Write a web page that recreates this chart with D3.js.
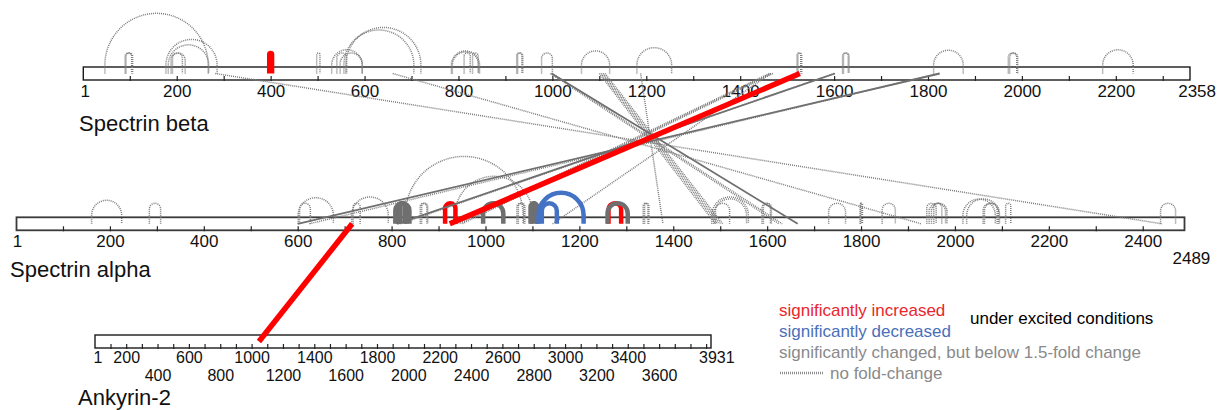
<!DOCTYPE html>
<html>
<head>
<meta charset="utf-8">
<script src="https://cdn.jsdelivr.net/npm/d3@7"></script>
<style>
  body { margin: 0; background: #fff; }
  svg { display: block; font-family: Arial, "Liberation Sans", sans-serif; }
</style>
</head>
<body>
<svg id="chart" width="1217" height="410"></svg>
<script>
// ---- proteins ----
const proteinNames = ["Spectrin beta", "Spectrin alpha", "Ankyrin-2"];
const proteinLengths = [2358, 2489, 3931];

// ---- tick labels ----
const betaTickLabels = [200, 400, 600, 800, 1000, 1200, 1400, 1600, 1800, 2000, 2200];
const alphaTickLabels = [200, 400, 600, 800, 1000, 1200, 1400, 1600, 1800, 2000, 2200, 2400];
const ankyrinTickRow1 = [200, 600, 1000, 1400, 1800, 2200, 2600, 3000, 3400];
const ankyrinTickRow2 = [400, 800, 1200, 1600, 2000, 2400, 2800, 3200, 3600];

// ---- crosslinks: [residue A, residue B, category] ----
// categories: up = significantly increased, down = significantly decreased,
// changed = significant but below 1.5-fold, none = no fold-change
const betaLinks = [
  [47, 267, "none"], [90, 104, "none"], [92, 106, "none"],
  [177, 286, "none"], [182, 268, "none"], [188, 218, "none"], [191, 212, "none"],
  [498, 505, "none"], [530, 595, "none"], [541, 562, "none"], [548, 595, "none"],
  [556, 705, "none"], [560, 720, "none"],
  [785, 845, "none"], [787, 843, "none"], [812, 825, "none"], [830, 842, "none"],
  [924, 935, "none"], [926, 937, "none"], [977, 1000, "none"],
  [1062, 1122, "none"], [1180, 1254, "none"],
  [1521, 1529, "none"], [1523, 1531, "none"], [1618, 1630, "none"], [1620, 1632, "none"],
  [1812, 1875, "none"], [1971, 1989, "none"], [1974, 1991, "none"], [2172, 2237, "none"],
  [397, 403, "up"]
];

const alphaLinks = [
  [161, 225, "none"], [284, 308, "none"], [601, 676, "none"], [604, 627, "none"],
  [715, 793, "none"], [718, 733, "none"], [829, 1080, "none"], [935, 1101, "none"],
  [861, 875, "none"], [864, 877, "none"], [1067, 1082, "none"], [1070, 1084, "none"],
  [1336, 1346, "none"], [1339, 1348, "none"],
  [1482, 1560, "none"], [1486, 1556, "none"], [1490, 1520, "none"],
  [1589, 1607, "none"], [1592, 1609, "none"], [1731, 1767, "none"],
  [1798, 1802, "none"], [1799, 1803, "none"], [1845, 1873, "none"],
  [1940, 1960, "none"], [1945, 1980, "none"], [1950, 1983, "none"], [1955, 1972, "none"],
  [2017, 2086, "none"], [2025, 2095, "none"], [2060, 2090, "none"], [2063, 2093, "none"],
  [2108, 2119, "none"], [2438, 2470, "none"],
  [808, 838, "changed"], [813, 832, "changed"], [818, 828, "changed"],
  [914, 936, "up"],
  [995, 1038, "changed"],
  [1096, 1110, "changed"], [1099, 1107, "changed"],
  [1113, 1209, "down"], [1120, 1152, "down"],
  [1262, 1289, "up"], [1260, 1303, "changed"]
];

// [beta residue, alpha residue, category]
const betaAlphaLinks = [
  [282, 2441, "none"], [660, 1928, "none"],
  [996, 1625, "none"], [1000, 1632, "none"],
  [1100, 1490, "none"], [1104, 1495, "none"], [1108, 1500, "none"], [1112, 1505, "none"],
  [1188, 1378, "none"], [1465, 1143, "none"],
  [1462, 938, "none"], [1466, 944, "none"], [1470, 950, "none"],
  [1823, 625, "none"], [1600, 818, "none"],
  [998, 1665, "changed"], [1602, 812, "changed"], [1825, 600, "changed"],
  [1527, 924, "up"]
];

// [alpha residue, ankyrin residue, category]
const alphaAnkyrinLinks = [
  [716, 1047, "up"]
];

// ---- drawing ----
const svg = d3.select("#chart");
const BAR_H = 13;

const bars = [
  { x0: 83.3, x1: 1190, top: 67 },
  { x0: 16.5, x1: 1184.5, top: 217.3 },
  { x0: 95, x1: 711, top: 335 }
];
const scales = bars.map((b, i) =>
  d3.scaleLinear().domain([1, proteinLengths[i]]).range([b.x0, b.x1]));

const colour = { up: "#ff0000", down: "#4472c4", changed: "#6f6f6f", none: "#7c7c7c" };

// protein bars
const gBars = svg.append("g");
bars.forEach((b, i) => {
  gBars.append("rect")
    .attr("x", b.x0).attr("y", b.top)
    .attr("width", b.x1 - b.x0).attr("height", BAR_H)
    .attr("fill", "#fff")
    .attr("stroke", i === 1 ? "#3a3a3a" : "#1a1a1a")
    .attr("stroke-width", i === 1 ? 1.8 : 1.4);
});

// axes: minor tick every 100 residues, labels on the listed values
function drawAxis(i, labels, padding, size) {
  const s = scales[i];
  const b = bars[i];
  const labelSet = new Set(labels);
  const axis = d3.axisBottom(s)
    .tickValues(d3.range(100, proteinLengths[i], 100))
    .tickSizeInner(-4).tickSizeOuter(0)
    .tickPadding(padding)
    .tickFormat(d => labelSet.has(d) ? String(d) : "");
  const g = svg.append("g")
    .attr("transform", `translate(0,${b.top + BAR_H})`)
    .call(axis);
  g.select(".domain").remove();
  g.selectAll(".tick line").attr("stroke", "#222").attr("stroke-width", 1.2)
    .attr("y2", -4).attr("y1", 1);
  g.selectAll(".tick text").attr("fill", "#111").attr("font-size", size)
    .attr("font-family", "Arial, 'Liberation Sans', sans-serif");
  return g;
}

drawAxis(0, betaTickLabels, 5, 17);
drawAxis(1, alphaTickLabels, 5, 17);
const ankAxis = drawAxis(2, ankyrinTickRow1.concat(ankyrinTickRow2), 4, 16);
const row2 = new Set(ankyrinTickRow2);
ankAxis.selectAll(".tick text").filter(d => row2.has(d)).attr("y", 22);

// end labels
function endLabel(text, x, y, anchor, size) {
  svg.append("text").attr("x", x).attr("y", y).attr("text-anchor", anchor)
    .attr("font-size", size).attr("fill", "#111").text(text);
}
endLabel("1", scales[0](1) + 2, 97, "middle", 17);
endLabel(String(proteinLengths[0]), 1216, 97, "end", 17);
endLabel("1", scales[1](1) + 1, 247, "middle", 17);
endLabel(String(proteinLengths[1]), scales[1](proteinLengths[1]) - 12, 263.5, "start", 17);
endLabel("1", scales[2](1) + 3, 363, "middle", 16);
endLabel(String(proteinLengths[2]), scales[2](proteinLengths[2]) - 12, 363, "start", 16);

// protein names
const nameY = [131, 277, 405];
const nameX = [79, 10, 78];
proteinNames.forEach((n, i) => {
  svg.append("text").attr("x", nameX[i]).attr("y", nameY[i])
    .attr("font-size", 22).attr("fill", "#111").text(n);
});

// intra-protein links as arches above the bar
function arcPath(i, a, b) {
  const s = scales[i], top = bars[i].top;
  const x1 = s(Math.min(a, b)), x2 = s(Math.max(a, b));
  const r = (x2 - x1) / 2;
  const yb = top + BAR_H / 2;
  const yc = Math.min(top - 2, top - 14 + r);
  return `M${x1},${yb}L${x1},${yc}A${r},${r} 0 0 1 ${x2},${yc}L${x2},${yb}`;
}

function strokeStyle(sel, kind) {
  sel.attr("fill", "none")
    .attr("stroke", d => colour[d[2]])
    .attr("stroke-width", d => {
      if (d[2] === "none") return 1.5;
      if (d[2] === "changed") return kind === "arc" ? 4.5 : 1.8;
      return kind === "arc" ? 4.5 : 5.5;
    })
    .attr("stroke-dasharray", d => d[2] === "none" ? "1 1" : null);
}

const linkLayer = svg.append("g");

function byCategory(list) {
  // dotted first, coloured ones keep their listed order
  return list.filter(d => d[2] === "none").concat(list.filter(d => d[2] !== "none"));
}

const groups = [
  { data: betaLinks, kind: "arc", p: 0 },
  { data: alphaLinks, kind: "arc", p: 1 },
  { data: betaAlphaLinks, kind: "line", p: 0, q: 1 },
  { data: alphaAnkyrinLinks, kind: "line", p: 1, q: 2 }
];

function drawSet(g, filterFn) {
  const data = byCategory(g.data).filter(filterFn);
  if (g.kind === "arc") {
    linkLayer.selectAll(null).data(data).join("path")
      .attr("d", d => arcPath(g.p, d[0], d[1]))
      .call(strokeStyle, "arc");
  } else {
    const yA = bars[g.p].top + BAR_H / 2;
    const yB = bars[g.q].top + BAR_H / 2;
    linkLayer.selectAll(null).data(data).join("line")
      .attr("x1", d => scales[g.p](d[0])).attr("y1", yA)
      .attr("x2", d => scales[g.q](d[1])).attr("y2", yB)
      .call(strokeStyle, "line");
  }
}
// dotted layer first for every link set, then the coloured ones on top
groups.forEach(g => drawSet(g, d => d[2] === "none"));
groups.forEach(g => drawSet(g, d => d[2] !== "none"));

// legend
const legend = svg.append("g").attr("font-size", 17);
legend.append("text").attr("x", 779).attr("y", 316).attr("fill", "#e8262c").text("significantly increased");
legend.append("text").attr("x", 970).attr("y", 324).attr("fill", "#000").text("under excited conditions");
legend.append("text").attr("x", 779).attr("y", 337).attr("fill", "#4a6fba").text("significantly decreased");
legend.append("text").attr("x", 779).attr("y", 358).attr("fill", "#8a8a8a").text("significantly changed, but below 1.5-fold change");
legend.append("line").attr("x1", 780).attr("x2", 823).attr("y1", 373).attr("y2", 373)
  .attr("stroke", "#8a8a8a").attr("stroke-width", 2.5).attr("stroke-dasharray", "1 1");
legend.append("text").attr("x", 830).attr("y", 379).attr("fill", "#8a8a8a").text("no fold-change");
</script>
</body>
</html>
